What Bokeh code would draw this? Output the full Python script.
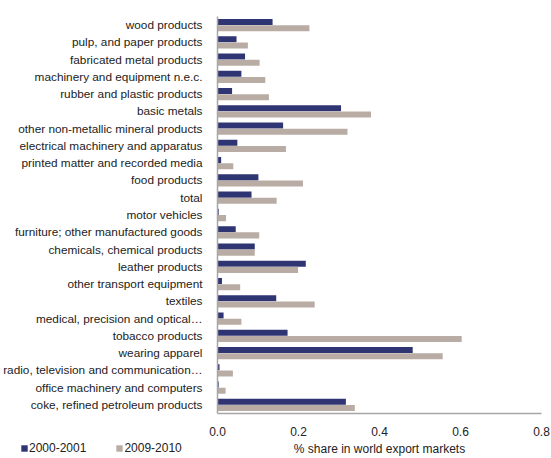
from bokeh.plotting import figure
from bokeh.layouts import column
from bokeh.models import FactorRange, FixedTicker, NumeralTickFormatter, Legend, LegendItem, ColumnDataSource
from bokeh.transform import dodge
from bokeh.embed import file_html
from bokeh.resources import INLINE

categories = [
    "wood products",
    "pulp, and paper products",
    "fabricated metal products",
    "machinery and equipment n.e.c.",
    "rubber and plastic products",
    "basic metals",
    "other non-metallic mineral products",
    "electrical machinery and apparatus",
    "printed matter and recorded media",
    "food products",
    "total",
    "motor vehicles",
    "furniture; other manufactured goods",
    "chemicals, chemical products",
    "leather products",
    "other transport equipment",
    "textiles",
    "medical, precision and optical\u2026",
    "tobacco products",
    "wearing apparel",
    "radio, television and communication\u2026",
    "office machinery and computers",
    "coke, refined petroleum products",
]
s2000 = [0.136, 0.047, 0.068, 0.059, 0.036, 0.305, 0.162, 0.049, 0.009, 0.101, 0.084, 0.003,
         0.045, 0.092, 0.218, 0.011, 0.145, 0.015, 0.173, 0.482, 0.005, 0.003, 0.317]
s2009 = [0.227, 0.075, 0.104, 0.118, 0.127, 0.379, 0.321, 0.169, 0.039, 0.211, 0.146, 0.021,
         0.103, 0.092, 0.199, 0.056, 0.240, 0.059, 0.603, 0.556, 0.038, 0.020, 0.339]
series_names = ["2000-2001", "2009-2010"]
x_ticks = [0.0, 0.2, 0.4, 0.6, 0.8]

src = ColumnDataSource(dict(cat=categories, a=s2000, b=s2009))

dark = "#2E3572"
light = "#B9ACA5"
font = "Liberation Sans"
text_col = "#222222"

p = figure(width=551, height=458, output_backend="svg", toolbar_location=None,
           y_range=FactorRange(factors=list(reversed(categories)), range_padding=0),
           x_range=(0, 0.8),
           min_border_left=215, min_border_right=10, min_border_top=16, min_border_bottom=38)
p.outline_line_color = None
p.grid.grid_line_color = None
p.background_fill_color = "white"

p.hbar(y=dodge("cat", 0.18, range=p.y_range), right="a", left=0, height=0.35,
       source=src, fill_color=dark, line_color=None)
p.hbar(y=dodge("cat", -0.18, range=p.y_range), right="b", left=0, height=0.35,
       source=src, fill_color=light, line_color=None)

p.xaxis.ticker = FixedTicker(ticks=x_ticks)
p.xaxis.formatter = NumeralTickFormatter(format="0.0")
p.xaxis.axis_label = "% share in world export markets"
p.xaxis.axis_label_text_font = font
p.xaxis.axis_label_text_font_style = "normal"
p.xaxis.axis_label_text_font_size = "12px"
p.xaxis.axis_label_text_color = text_col
p.xaxis.axis_label_standoff = 3
p.xaxis.major_label_standoff = 7
for ax in (p.xaxis, p.yaxis):
    ax.axis_line_color = "#A6A6A6"
    ax.axis_line_width = 1.5
    ax.major_tick_line_color = None
    ax.minor_tick_line_color = None
    ax.major_label_text_font = font
    ax.major_label_text_color = text_col
p.xaxis.major_label_text_font_size = "12px"
p.yaxis.major_label_text_font_size = "11.8px"
p.yaxis.major_label_standoff = 9

# Legend strip, overlapped onto the empty bottom-left corner of the chart
lg = figure(width=551, height=16, output_backend="svg", toolbar_location=None,
            x_range=p.x_range, y_range=p.y_range, x_axis_type=None, y_axis_type=None,
            min_border_left=0, min_border_right=0, min_border_top=0, min_border_bottom=0,
            outline_line_color=None, border_fill_alpha=0,
            background_fill_alpha=0, styles={"margin-top": "-19px"})
try:
    lg.frame_align = False
except AttributeError:
    pass
lg.grid.grid_line_color = None
e1 = lg.hbar(y="cat", right="a", left=0, height=0.35, source=src,
             fill_color=dark, line_color=None, visible=False)
e2 = lg.hbar(y="cat", right="b", left=0, height=0.35, source=src,
             fill_color=light, line_color=None, visible=False)
legend = Legend(items=[LegendItem(label=series_names[0], renderers=[e1]),
                       LegendItem(label=series_names[1], renderers=[e2])],
                orientation="horizontal", location=(20, 0),
                glyph_width=8, glyph_height=8, label_standoff=1, spacing=29,
                padding=0, margin=0, label_height=14, label_width=10,
                border_line_color=None, background_fill_alpha=0,
                inactive_fill_alpha=0,
                label_text_font=font, label_text_font_size="12px", label_text_color=text_col)
lg.add_layout(legend, "center")

layout = column(p, lg, spacing=0)

open("out.html", "w").write(file_html(layout, INLINE))
